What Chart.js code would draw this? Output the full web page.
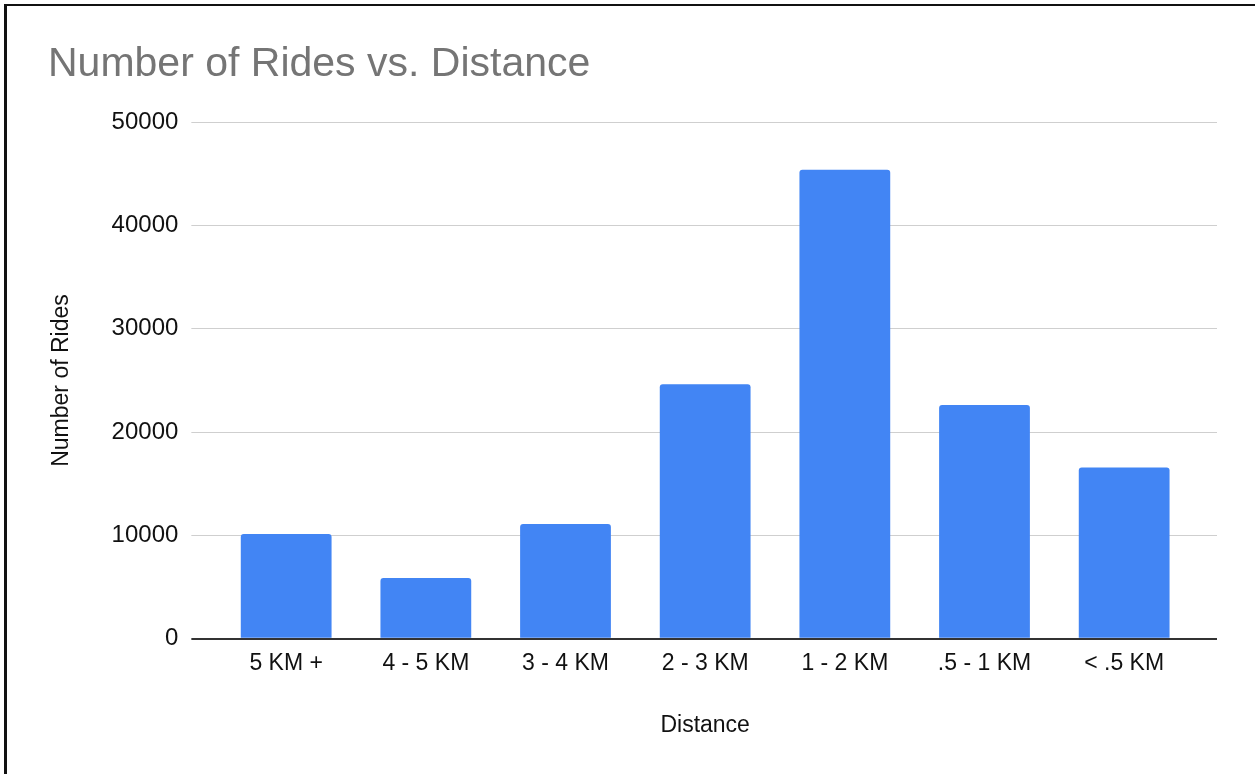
<!DOCTYPE html>
<html>
<head>
<meta charset="utf-8">
<script src="https://cdn.jsdelivr.net/npm/chart.js@4"></script>
<style>
  body { margin: 0; background: #fff; }
  #wrap { position: relative; width: 1255px; height: 774px; overflow: hidden; }
  #topLine { position: absolute; left: 4px; top: 4px; width: 1251px; height: 2px; background: #111; }
  #leftLine { position: absolute; left: 4px; top: 4px; width: 3px; height: 770px; background: #111; }
</style>
</head>
<body>
<div id="wrap">
  <canvas id="ridesChart" width="1255" height="774"></canvas>
  <div id="topLine"></div>
  <div id="leftLine"></div>
</div>
<script>
// Chart data
const distanceLabels = ["5 KM +", "4 - 5 KM", "3 - 4 KM", "2 - 3 KM", "1 - 2 KM", ".5 - 1 KM", "< .5 KM"];
const rideCounts = [10150, 5880, 11110, 24640, 45400, 22640, 16570];
const yMax = 50000;
const yStep = 10000;

Chart.defaults.font.family = "'Liberation Sans', Arial, sans-serif";
Chart.defaults.color = "#111";

// Zero line is dark, other grid lines light gray
const gridColor = ctx => (ctx.tick && ctx.tick.value === 0 ? "#333" : "#cfcfcf");
const gridWidth = ctx => (ctx.tick && ctx.tick.value === 0 ? 2 : 1);

const ctx = document.getElementById("ridesChart").getContext("2d");
new Chart(ctx, {
  type: "bar",
  data: {
    labels: distanceLabels,
    datasets: [
      {
        label: "Number of Rides",
        data: rideCounts,
        backgroundColor: "#4285f4",
        borderRadius: 3,
        barPercentage: 0.65,
        categoryPercentage: 1,
      }
    ]
  },
  options: {
    responsive: false,
    animation: false,
    devicePixelRatio: 1,
    layout: { padding: { left: 48, right: 38, top: 0, bottom: 35 } },
    plugins: {
      legend: { display: false },
      tooltip: { enabled: false },
      title: {
        display: true,
        text: "Number of Rides vs. Distance",
        align: "start",
        color: "#757575",
        font: { size: 41, weight: "normal" },
        padding: { top: 40, bottom: 33 }
      }
    },
    scales: {
      x: {
        grid: { display: false, drawTicks: false },
        border: { display: false },
        ticks: { font: { size: 23 }, padding: 11, maxRotation: 0 },
        title: { display: true, text: "Distance", font: { size: 23 }, padding: { top: 23, bottom: 0 } }
      },
      y: {
        min: 0,
        max: yMax,
        ticks: { stepSize: yStep, font: { size: 24 }, padding: 13, callback: v => String(v) },
        grid: { color: gridColor, lineWidth: gridWidth, tickLength: 25 },
        border: { display: false },
        title: { display: true, text: "Number of Rides", font: { size: 23 }, padding: { top: 0, bottom: 23 } }
      },
      yRight: {
        position: "right",
        min: 0,
        max: yMax,
        ticks: { stepSize: yStep, display: false },
        grid: { color: gridColor, lineWidth: gridWidth, tickLength: 23, drawOnChartArea: false },
        border: { display: false }
      }
    }
  }
});
</script>
</body>
</html>
